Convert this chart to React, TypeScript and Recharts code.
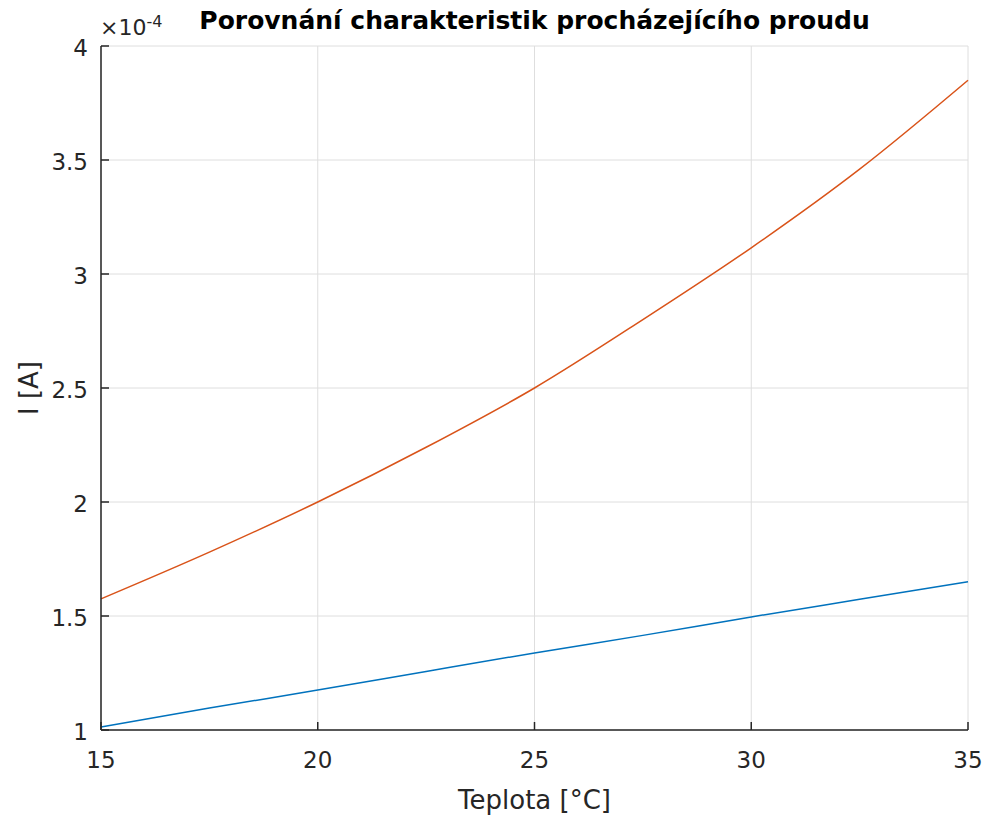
import React from "react";
import { LineChart, Line, XAxis, YAxis, CartesianGrid, Label } from "recharts";

// teplota [°C] and proud I [A], values in units of 1e-4
const temps = [15, 17.5, 20, 22.5, 25, 27.5, 30, 32.5, 35];
const blueCurrent = [1.013, 1.096, 1.175, 1.257, 1.338, 1.415, 1.496, 1.573, 1.65];
const orangeCurrent = [1.575, 1.78, 2.0, 2.24, 2.5, 2.8, 3.115, 3.46, 3.85];

const xTicks = [15, 20, 25, 30, 35];
const yTicks = [1, 1.5, 2, 2.5, 3, 3.5, 4];

const title = "Porovnání charakteristik procházejícího proudu";
const xLabel = "Teplota [°C]";
const yLabel = "I [A]";

const data = temps.map((t, i) => ({ t, blue: blueCurrent[i], orange: orangeCurrent[i] }));

const FONT = "'DejaVu Sans', Verdana, sans-serif";
const AXIS = "#262626";

const YTick = ({ x, y, payload }: any) => (
  <text x={x} y={y + 2} textAnchor="end" dominantBaseline="central" fill={AXIS} fontSize={23} fontFamily={FONT}>
    {payload.value}
  </text>
);

export default function App() {
  return (
    <div style={{ position: "absolute", left: 0, top: 0, width: 987, height: 818, background: "#fff", fontFamily: FONT }}>
      <div
        style={{
          position: "absolute", left: 101, width: 867, top: 6, textAlign: "center",
          fontWeight: "bold", fontSize: 25, color: "#000", lineHeight: "30px",
        }}
      >
        {title}
      </div>
      <div style={{ position: "absolute", left: 100, top: 15, fontSize: 22, color: AXIS, lineHeight: "26px" }}>
        ×10<sup style={{ fontSize: 16, verticalAlign: "8px", lineHeight: 0 }}>-4</sup>
      </div>
      <LineChart width={987} height={818} data={data} margin={{ top: 46, right: 19, bottom: 0, left: 0 }}>
        <CartesianGrid stroke="#dedede" strokeWidth={1} />
        <XAxis
          dataKey="t" type="number" domain={[15, 35]} ticks={xTicks} height={88}
          stroke={AXIS} strokeWidth={1.5} tickSize={-8} tickMargin={30}
          tick={{ fill: AXIS, fontSize: 23, fontFamily: FONT }}
        >
          <Label value={xLabel} position="insideBottom" offset={9} fill={AXIS} fontSize={26} fontFamily={FONT} />
        </XAxis>
        <YAxis
          type="number" domain={[1, 4]} ticks={yTicks} width={101}
          stroke={AXIS} strokeWidth={1.5} tickSize={-8} tickMargin={21}
          tick={YTick}
        >
          <Label
            content={({ viewBox }: any) => (
              <text
                x={29} y={viewBox.y + viewBox.height / 2}
                transform={`rotate(-90, 29, ${viewBox.y + viewBox.height / 2})`}
                textAnchor="middle" dominantBaseline="central"
                fill={AXIS} fontSize={26} fontFamily={FONT}
              >
                {yLabel}
              </text>
            )}
          />
        </YAxis>
        <Line type="monotone" dataKey="blue" stroke="#0072BD" strokeWidth={1.5} dot={false} isAnimationActive={false} />
        <Line type="monotone" dataKey="orange" stroke="#D95319" strokeWidth={1.5} dot={false} isAnimationActive={false} />
      </LineChart>
    </div>
  );
}
